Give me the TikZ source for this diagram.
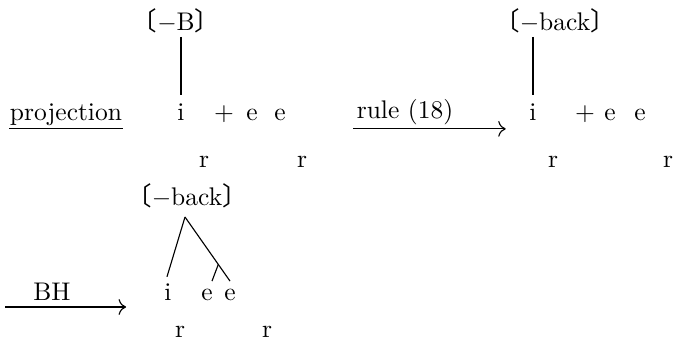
\documentclass[tikz,border=0pt]{standalone}
\usepackage{fontspec}
\newfontfamily\cjkfont{Noto Sans CJK JP}
\usetikzlibrary{arrows.meta}
\newcommand{\lbrk}{{\cjkfont 〔}}
\newcommand{\rbrk}{{\cjkfont 〕}}
\begin{document}
\begin{tikzpicture}[x=0.4pt,y=-0.4pt,
  txt/.style={anchor=base,inner sep=0pt,font=\fontsize{10.2}{12}\selectfont},
  ln/.style={line width=0.45pt},
  arr/.style={line width=0.45pt,-{To[length=3pt]}}]
\useasboundingbox (0,0) rectangle (674,347);
% row 1 left
\node[txt] (proj) at (66,120) {projection};
\node[txt] (B1) at (176,30) {\lbrk$-$B\rbrk};
\node[txt] (i1) at (181,120) {i};
\node[txt] (p1) at (224,120) {+};
\node[txt] (e1a) at (252,120) {e};
\node[txt] (e1b) at (280,120) {e};
\node[txt] (r1a) at (204,167) {r};
\node[txt] (r1b) at (302,167) {r};
\draw[ln] ([yshift=-1pt]proj.south west) -- ([yshift=-1pt]proj.south east);
\draw[ln] ([yshift=-1.5pt]i1.north |- B1.south) -- ([yshift=3pt]i1.north);
% row 1 right
\node[txt] (rule) at (405,118) {rule (18)};
\draw[arr] ([shift={(-1.2pt,-1.6pt)}]rule.south west) -- ([shift={(20.8pt,-1.6pt)}]rule.south east);
\node[txt] (B2) at (555,30) {\lbrk$-$back\rbrk};
\node[txt] (i2) at (533,120) {i};
\node[txt] (p2) at (585,120) {+};
\node[txt] (e2a) at (610,120) {e};
\node[txt] (e2b) at (640,120) {e};
\node[txt] (r2a) at (553,167) {r};
\node[txt] (r2b) at (668,167) {r};
\draw[ln] ([yshift=-1.5pt]i2.north |- B2.south) -- ([yshift=3pt]i2.north);
% row 2
\node[txt] (BH) at (52,300) {BH};
\draw[arr] ([shift={(-11pt,-2.6pt)}]BH.south west) -- ([shift={(22pt,-2.6pt)}]BH.south east);
\node[txt] (B3) at (187,205) {\lbrk$-$back\rbrk};
\node[txt] (i3) at (168,300) {i};
\node[txt] (e3a) at (207,300) {e};
\node[txt] (e3b) at (230,300) {e};
\node[txt] (r3a) at (180,337) {r};
\node[txt] (r3b) at (267,337) {r};
\coordinate (ap) at (185,217);
\draw[ln] (ap) -- ([shift={(-0.4pt,2.4pt)}]i3.north);
\draw[ln] (ap) -- ([yshift=2.8pt]e3b.north) coordinate[pos=0.74] (br);
\draw[ln] (br) -- ([shift={(2pt,2.8pt)}]e3a.north);
\end{tikzpicture}
\end{document}
